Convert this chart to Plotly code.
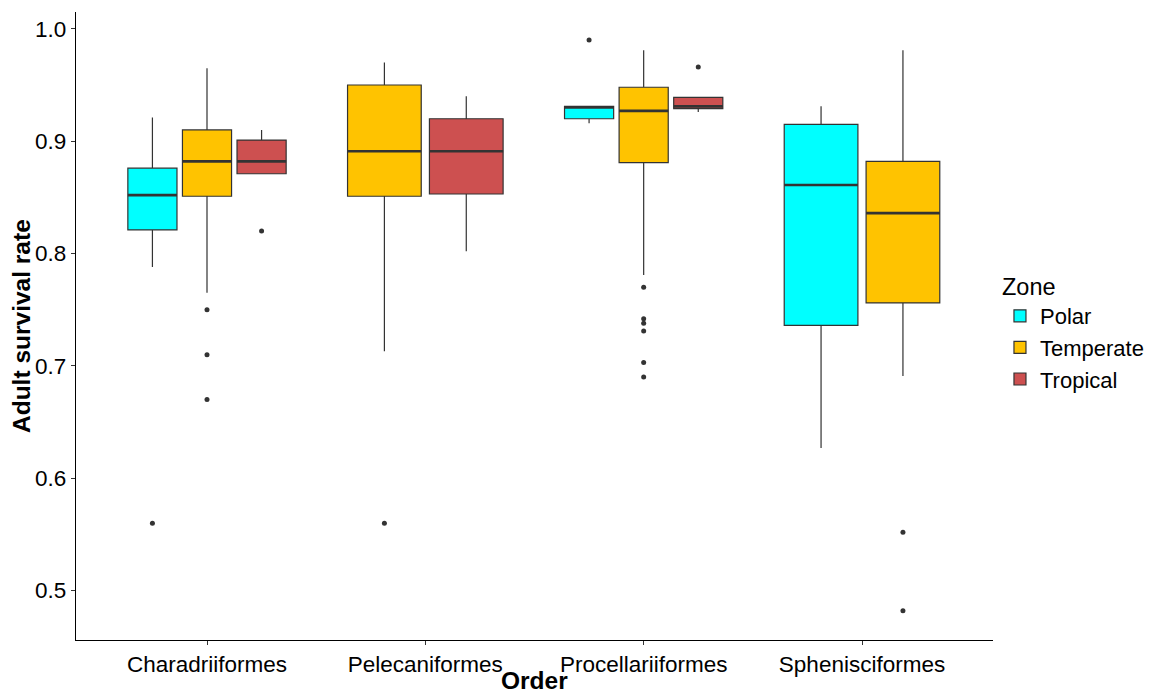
import plotly.graph_objects as go

orders = ["Charadriiformes", "Pelecaniformes", "Procellariiformes", "Sphenisciformes"]
zones = ["Polar", "Temperate", "Tropical"]
colors = {"Polar": "#00FFFF", "Temperate": "#FFC300", "Tropical": "#CD5050"}

# Box statistics per order (None = zone absent for that order)
polar_lower = [0.788, None, 0.916, 0.627]
polar_q1 = [0.821, None, 0.920, 0.736]
polar_median = [0.852, None, 0.930, 0.861]
polar_q3 = [0.876, None, 0.931, 0.915]
polar_upper = [0.921, None, 0.931, 0.931]
polar_outliers = [[0.56], [], [0.99], []]

temperate_lower = [0.765, 0.713, 0.781, 0.691]
temperate_q1 = [0.851, 0.851, 0.881, 0.756]
temperate_median = [0.882, 0.891, 0.927, 0.836]
temperate_q3 = [0.910, 0.950, 0.948, 0.882]
temperate_upper = [0.965, 0.970, 0.981, 0.981]
temperate_outliers = [[0.75, 0.71, 0.67], [0.56],
                      [0.77, 0.742, 0.738, 0.731, 0.703, 0.69], [0.552, 0.482]]

tropical_lower = [0.871, 0.802, 0.926, None]
tropical_q1 = [0.871, 0.853, 0.929, None]
tropical_median = [0.882, 0.891, 0.931, None]
tropical_q3 = [0.901, 0.920, 0.939, None]
tropical_upper = [0.910, 0.940, 0.939, None]
tropical_outliers = [[0.82], [], [0.966], []]

y_ticks = [0.5, 0.6, 0.7, 0.8, 0.9, 1.0]

stats = {
    "Polar": (polar_lower, polar_q1, polar_median, polar_q3, polar_upper, polar_outliers),
    "Temperate": (temperate_lower, temperate_q1, temperate_median, temperate_q3, temperate_upper, temperate_outliers),
    "Tropical": (tropical_lower, tropical_q1, tropical_median, tropical_q3, tropical_upper, tropical_outliers),
}

DODGE = 0.75
BOXFRAC = 0.9
LINE = "#333333"
FONT = "Liberation Sans, Arial, sans-serif"

fig = go.Figure()
shown = set()
median_x, median_y = [], []
out_x, out_y = [], []
for i, order in enumerate(orders):
    present = [z for z in zones if stats[z][1][i] is not None]
    n = len(present)
    slot = DODGE / n
    for k, z in enumerate(present):
        lo, q1, med, q3, up, outs = stats[z]
        pos = i + (k - (n - 1) / 2) * slot
        w = slot * BOXFRAC
        fig.add_trace(go.Box(
            x=[pos], q1=[q1[i]], median=[med[i]], q3=[q3[i]],
            lowerfence=[lo[i]], upperfence=[up[i]],
            width=w, fillcolor=colors[z], line=dict(color=LINE, width=1.2),
            whiskerwidth=0, boxpoints=False, name=z, legendgroup=z,
            showlegend=z not in shown,
        ))
        shown.add(z)
        median_x += [pos - w / 2, pos + w / 2, None]
        median_y += [med[i], med[i], None]
        for v in outs[i]:
            out_x.append(pos)
            out_y.append(v)

fig.add_trace(go.Scatter(x=median_x, y=median_y, mode="lines",
                         line=dict(color=LINE, width=2.6), showlegend=False, hoverinfo="skip"))
fig.add_trace(go.Scatter(x=out_x, y=out_y, mode="markers",
                         marker=dict(color=LINE, size=5), showlegend=False))

# legend entries first, in zone order
fig.data = tuple(sorted(fig.data, key=lambda t: (0 if t.showlegend else 1)))

fig.update_layout(
    width=1159, height=694,
    margin=dict(l=76, r=166, t=12, b=54, autoexpand=False),
    plot_bgcolor="white", paper_bgcolor="white",
    font=dict(family=FONT, size=22.5, color="black"),
    showlegend=True,
    legend=dict(title=dict(text="Zone", font=dict(size=23.5)), x=1.0076, xanchor="left",
                y=0.598, yanchor="top", font=dict(size=22), tracegroupgap=0,
                itemwidth=30, traceorder="normal"),
    xaxis=dict(range=[-0.6, 3.6], tickmode="array", tickvals=list(range(len(orders))),
               ticktext=orders, showline=True, linecolor="black", linewidth=1.3,
               ticks="outside", ticklen=4, tickcolor="#333333", showgrid=False, zeroline=False,
               automargin=False),
    yaxis=dict(range=[0.456, 1.015], tickmode="array", tickvals=y_ticks,
               ticktext=[f"{v:.1f}" for v in y_ticks], showline=True, linecolor="black",
               linewidth=1.3, ticks="outside", ticklen=4, tickcolor="#333333",
               showgrid=False, zeroline=False, automargin=False),
    annotations=[
        dict(text="<b>Order</b>", xref="paper", yref="paper", x=0.5, y=0,
             yshift=-40, xanchor="center", yanchor="middle", showarrow=False,
             font=dict(family=FONT, size=24.5, color="black")),
        dict(text="<b>Adult survival rate</b>", xref="paper", yref="paper", x=0, y=0.5,
             xshift=-55, xanchor="center", yanchor="middle", textangle=-90, showarrow=False,
             font=dict(family=FONT, size=24.5, color="black")),
    ],
)

fig.write_html("out.html", config={"displayModeBar": False},
               post_script="document.body.style.margin='0px';")
